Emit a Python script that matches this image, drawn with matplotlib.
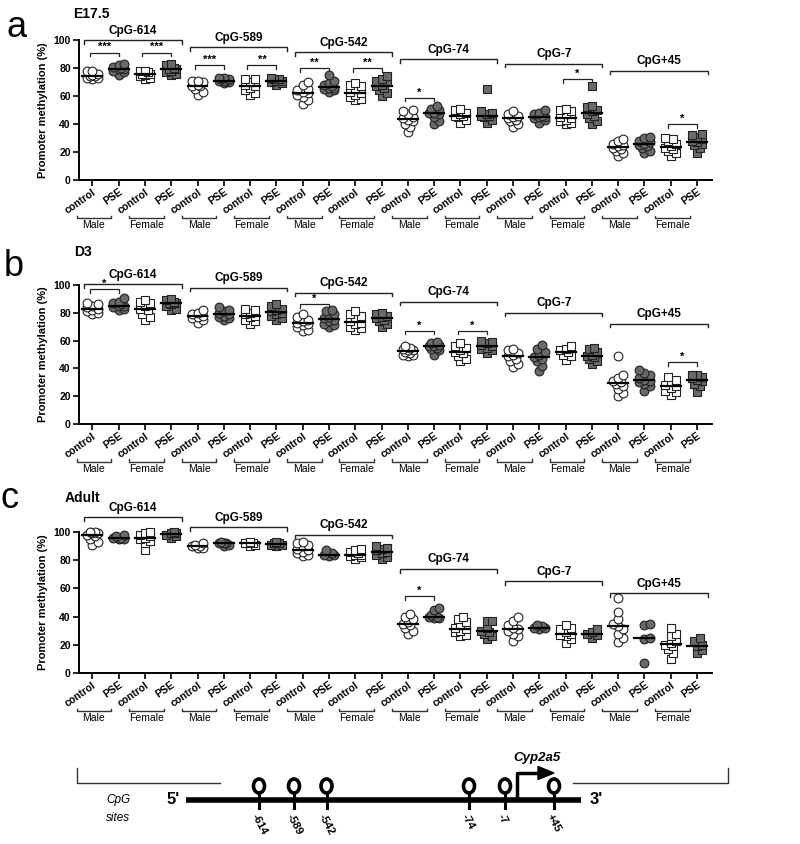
import numpy as np
import matplotlib
matplotlib.use("Agg")
import matplotlib.pyplot as plt
from matplotlib.transforms import blended_transform_factory
from matplotlib.patches import Ellipse, FancyArrow

plt.rcParams['font.family'] = ['Liberation Sans', 'DejaVu Sans']

sites = ["CpG-614", "CpG-589", "CpG-542", "CpG-74", "CpG-7", "CpG+45"]
tick_names = ["control", "PSE"]
sexes = ["Male", "Female"]

# each site: [male control, male PSE, female control, female PSE]
# ---- E17.5 ----
a_614 = [[72, 73, 73, 74, 74, 75, 76, 78, 78], [75, 77, 78, 79, 79, 80, 81, 82, 83],
         [72, 73, 74, 75, 76, 76, 77, 78, 78], [75, 76, 77, 78, 79, 79, 80, 82, 83]]
a_589 = [[61, 63, 65, 67, 67, 68, 70, 71, 71], [69, 70, 71, 71, 71, 72, 72, 73, 73],
         [61, 62, 64, 66, 67, 68, 70, 72, 72], [68, 69, 70, 71, 71, 72, 72, 73]]
a_542 = [[54, 57, 59, 61, 62, 63, 64, 65, 68, 70], [63, 64, 65, 66, 66, 67, 68, 69, 71, 75],
         [57, 58, 59, 61, 62, 63, 65, 67, 68, 69], [60, 62, 64, 66, 67, 68, 70, 71, 72, 74]]
a_74 = [[34, 38, 40, 42, 43, 44, 45, 47, 49, 50], [40, 42, 45, 47, 48, 48, 50, 51, 53],
        [41, 43, 45, 46, 46, 47, 48, 50, 51], [41, 43, 45, 46, 46, 47, 48, 49, 65]]
a_7 = [[38, 40, 42, 43, 44, 45, 46, 47, 49], [41, 43, 44, 45, 45, 46, 47, 48, 50],
       [40, 41, 42, 43, 44, 45, 47, 49, 50, 51], [40, 42, 44, 46, 47, 49, 50, 52, 53, 67]]
a_45 = [[17, 19, 21, 22, 23, 24, 25, 26, 28, 29], [19, 21, 23, 24, 25, 26, 27, 28, 30, 31],
        [17, 19, 21, 22, 23, 24, 26, 28, 29, 30], [19, 23, 25, 26, 27, 28, 29, 31, 32, 33]]

# ---- D3 ----
b_614 = [[79, 80, 81, 82, 83, 84, 85, 86, 87], [82, 83, 84, 85, 85, 86, 87, 88, 91],
         [75, 77, 79, 82, 83, 85, 87, 88, 89], [82, 83, 85, 86, 87, 87, 88, 89, 90]]
b_589 = [[73, 75, 76, 77, 78, 79, 80, 82], [75, 76, 77, 78, 79, 80, 81, 82, 84],
         [72, 74, 75, 77, 78, 79, 80, 82, 83], [75, 76, 78, 79, 80, 81, 82, 83, 85, 86]]
b_542 = [[67, 68, 70, 71, 72, 73, 74, 75, 77, 79], [70, 71, 72, 74, 75, 76, 77, 79, 81, 82],
         [68, 69, 70, 72, 73, 74, 76, 78, 79, 81], [70, 72, 74, 75, 76, 77, 78, 79, 80]]
b_74 = [[49, 50, 50, 51, 52, 53, 53, 54, 55, 56], [50, 53, 54, 55, 56, 56, 57, 58, 59],
        [45, 47, 49, 51, 52, 53, 55, 56, 58], [51, 53, 54, 55, 56, 57, 58, 59, 60]]
b_7 = [[41, 43, 45, 47, 49, 50, 51, 53, 54], [38, 42, 45, 47, 48, 50, 52, 54, 57],
       [46, 49, 50, 52, 53, 54, 56], [43, 45, 47, 48, 49, 50, 52, 54, 55]]
b_45 = [[20, 22, 25, 27, 29, 30, 31, 33, 35, 49], [24, 27, 29, 30, 31, 32, 33, 35, 37, 39],
        [21, 23, 24, 26, 27, 28, 30, 32, 34], [23, 27, 29, 31, 32, 33, 34, 35, 35]]

# ---- Adult ----
c_614 = [[91, 93, 95, 97, 98, 99, 99, 100, 100], [95, 95, 96, 96, 97, 98],
         [87, 92, 94, 95, 96, 97, 98, 99, 100], [96, 97, 98, 99, 99, 100]]
c_589 = [[89, 89, 90, 90, 91, 92], [90, 91, 92, 92, 92, 93],
         [90, 91, 92, 92, 93], [90, 91, 91, 92, 92, 93]]
c_542 = [[83, 84, 85, 86, 87, 88, 90, 91, 92, 93], [83, 84, 84, 85, 87],
         [81, 82, 83, 84, 84, 85, 86, 87, 88], [81, 82, 84, 85, 86, 87, 88, 89, 90]]
c_74 = [[28, 30, 32, 34, 35, 36, 38, 40, 42], [39, 39, 40, 40, 41, 45, 46],
        [26, 27, 29, 30, 31, 32, 34, 36, 38, 40], [24, 26, 28, 29, 30, 32, 37, 37]]
c_7 = [[23, 26, 28, 30, 31, 32, 34, 37, 40], [31, 32, 32, 33, 34],
       [21, 24, 26, 27, 28, 29, 31, 32, 34], [25, 27, 28, 29, 31]]
c_45 = [[22, 25, 28, 31, 33, 35, 38, 43, 53], [7, 24, 25, 34, 35],
        [10, 14, 17, 19, 20, 21, 23, 26, 28, 32], [14, 16, 19, 20, 23, 25]]

# CpG bracket heights and significance marks (group position, height, label)
site_y_a = [100, 95, 91.4, 86.4, 82.9, 77.9]
site_y_b = [100.7, 98, 94.5, 88, 80, 72]
site_y_c = [110.6, 103.5, 98, 73.8, 65.2, 56.7]
sig_a = [(0, 91, "***"), (2, 91, "***"), (4, 82, "***"), (6, 82, "**"), (8, 80, "**"),
         (10, 80, "**"), (12, 58.6, "*"), (18, 72, "*"), (22, 40, "*")]
sig_b = [(0, 97, "*"), (8, 86.3, "*"), (12, 67, "*"), (14, 67, "*"), (22, 44.6, "*")]
sig_c = [(12, 54.6, "*")]

GRAY = "#6a6a6a"
styles = [("o", "white"), ("o", GRAY), ("s", "white"), ("s", GRAY)]


def swarm(vals, d=0.1, ry=6.0):
    vals = np.asarray(vals, float)
    xs = np.zeros(len(vals))
    placed = []
    for i in np.argsort(vals):
        best, best_score = 0.0, -1
        for k in [0, 1, -1, 2, -2]:
            off = k * d
            dist = min([((off - px) / 0.34) ** 2 + ((vals[i] - py) / ry) ** 2
                        for px, py in placed] + [9])
            if dist >= 0.45:
                best = off
                break
            if dist > best_score:
                best, best_score = off, dist
        xs[i] = best
        placed.append((best, vals[i]))
    return xs


def bracket(ax, x0, x1, y, h, lw=1.0):
    ax.plot([x0, x0, x1, x1], [y - h, y, y, y - h], color="#222222", lw=lw,
            clip_on=False, solid_joinstyle="miter")


def draw_panel(ax, data, site_y, sig):
    for s, groups in enumerate(data):
        for g, vals in enumerate(groups):
            pos = s * 4 + g
            mk, fc = styles[g]
            xs = pos + swarm(vals)
            ax.scatter(xs, vals, s=40, marker=mk, facecolor=fc, edgecolor="#222222",
                       linewidths=0.8, zorder=3, clip_on=False)
            med = np.median(vals)
            ax.plot([pos - 0.38, pos + 0.38], [med, med], color="black", lw=1.6, zorder=4)
        x0, x1 = s * 4 - 0.3, s * 4 + 3.4
        bracket(ax, x0, x1, site_y[s], 2.5)
        ax.text((x0 + x1) / 2, site_y[s] + 2.5, sites[s], ha="center", va="bottom",
                fontsize=8.5, fontweight="bold")
    for pos, y, lab in sig:
        bracket(ax, pos - 0.1, pos + 1.0, y, 2.5, lw=0.9)
        ax.text(pos + 0.45, y + 0.3, lab, ha="center", va="bottom", fontsize=8,
                fontweight="bold")

    ax.set_xlim(-0.5, 23.57)
    ax.set_ylim(0, 100)
    ax.set_yticks([0, 20, 40, 60, 80, 100])
    ax.set_xticks(range(24))
    ax.set_xticklabels(tick_names * 12, rotation=35, ha="right", va="top",
                       rotation_mode="anchor", fontsize=7.5, fontweight="bold")
    for lab in ax.get_yticklabels():
        lab.set_fontweight("bold")
        lab.set_fontsize(7.5)
    ax.tick_params(axis="both", direction="out", length=4, width=1.2, pad=2)
    ax.tick_params(axis="x", pad=1)
    for sp in ["top", "right"]:
        ax.spines[sp].set_visible(False)
    for sp in ["left", "bottom"]:
        ax.spines[sp].set_linewidth(1.4)
    ax.set_ylabel("Promoter methylation (%)", fontsize=8, fontweight="bold", labelpad=4)

    # Male / Female brackets below tick labels
    tr = blended_transform_factory(ax.transData, ax.transAxes)
    for p in range(12):
        x0, x1 = p * 2 - 0.6, p * 2 + 0.72
        ax.plot([x0, x0, x1, x1], [-0.255, -0.272, -0.272, -0.255], transform=tr,
                color="#333333", lw=1.0, clip_on=False)
        ax.text((x0 + x1) / 2, -0.285, sexes[p % 2], transform=tr, ha="center",
                va="top", fontsize=7.5)


fig = plt.figure(figsize=(8, 8.44), dpi=100)

# schematic of the promoter at the bottom (pixel coordinates of the figure)
axd = fig.add_axes([0, 0, 1, 1])
axd.set_xlim(0, 800)
axd.set_ylim(844, 0)
axd.axis("off")
site_x = [259, 294, 326.5, 469, 505, 554]
site_lab = ["-614", "-589", "-542", "-74", "-7", "+45"]
axd.plot([77, 77, 220], [768, 783, 783], color="#333333", lw=1.0)
axd.plot([573, 728, 728], [783, 783, 768], color="#333333", lw=1.0)
axd.plot([186, 581], [800, 800], color="black", lw=4, solid_capstyle="butt")
for x, lab in zip(site_x, site_lab):
    axd.plot([x, x], [782, 808], color="black", lw=2.2, zorder=2)
    axd.add_patch(Ellipse((x, 786), 11, 14, facecolor="white", edgecolor="black",
                          lw=2.6, zorder=3))
    axd.text(x - 5, 815, lab, rotation=-62, rotation_mode="anchor", ha="left",
             va="center", fontsize=8, fontweight="bold")
axd.text(118, 800, "CpG", ha="center", va="center", fontsize=8.5, style="italic")
axd.text(118, 818, "sites", ha="center", va="center", fontsize=8.5, style="italic")
axd.text(173, 800, "5'", ha="center", va="center", fontsize=12, fontweight="bold")
axd.text(596, 800, "3'", ha="center", va="center", fontsize=12, fontweight="bold")
axd.plot([517, 517, 537], [796, 773, 773], color="black", lw=2.5)
axd.add_patch(FancyArrow(535, 773, 3, 0, width=0.1, head_width=13, head_length=16,
                         color="black", length_includes_head=False))
axd.text(537, 758, "Cyp2a5", ha="center", va="center", fontsize=9.5,
         fontweight="bold", style="italic")

ax_a = fig.add_axes([0.099, 0.7867, 0.791, 0.1659])
ax_b = fig.add_axes([0.099, 0.4976, 0.791, 0.1647])
ax_c = fig.add_axes([0.099, 0.2026, 0.791, 0.167])

draw_panel(ax_a, [a_614, a_589, a_542, a_74, a_7, a_45], site_y_a, sig_a)
draw_panel(ax_b, [b_614, b_589, b_542, b_74, b_7, b_45], site_y_b, sig_b)
draw_panel(ax_c, [c_614, c_589, c_542, c_74, c_7, c_45], site_y_c, sig_c)

fig.text(7 / 800, 1 - 37 / 844, "a", fontsize=26, va="baseline")
fig.text(4 / 800, 1 - 276 / 844, "b", fontsize=26, va="baseline")
fig.text(1 / 800, 1 - 508 / 844, "c", fontsize=26, va="baseline")
fig.text(73 / 800, 1 - 18 / 844, "E17.5", fontsize=10, fontweight="bold", va="baseline")
fig.text(74 / 800, 1 - 256 / 844, "D3", fontsize=10, fontweight="bold", va="baseline")
fig.text(65 / 800, 1 - 502 / 844, "Adult", fontsize=10, fontweight="bold", va="baseline")

fig.savefig("out.png", dpi=100)
